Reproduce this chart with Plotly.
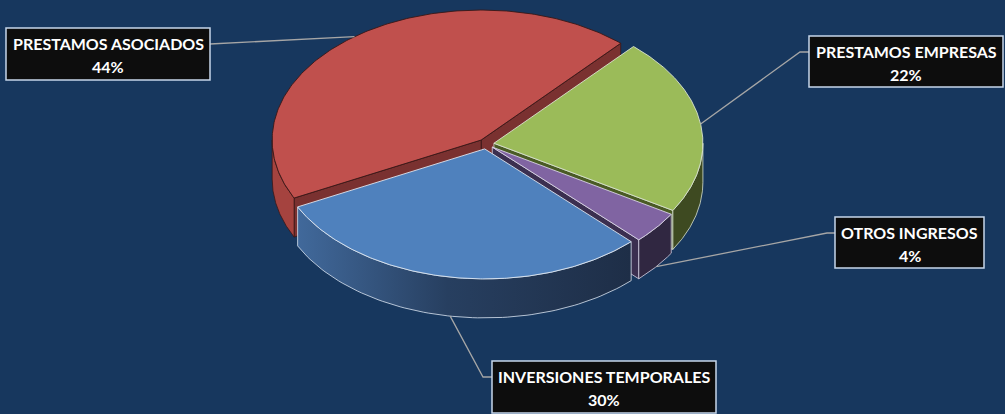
import numpy as np
import plotly.graph_objects as go

# ---------------- data ----------------
categories = ["PRESTAMOS ASOCIADOS", "PRESTAMOS EMPRESAS", "OTROS INGRESOS", "INVERSIONES TEMPORALES"]
values = [44, 22, 4, 30]
pct_labels = ["44%", "22%", "4%", "30%"]

# ---------------- style ----------------
top_colors = ["#C0504D", "#9BBB59", "#8064A2", "#4F81BD"]
wall_colors = ["#A5433F", "#3E4A21", "#302741", None]
face_colors = ["#7A3130", "#4A5B25", "#3B2F50", "#2A4262"]
edge_colors = ["#3A1716", "#D9E2CF", "#D9D4E6", "#DCE6F2"]
blue_wall_scale = [[0, "#41699B"], [0.45, "#273F60"], [1, "#1E2E47"]]
BG = "#17375E"

W, H = 1005, 414
CX, CY = 486, 144          # pie centre (px)
R = 209                    # horizontal radius (px)
K = 0.622                  # vertical squash of the tilted pie
DEPTH = 39                 # thickness (px)
EXPLODE = 8                # explosion distance (px)
START = 243.5              # first slice angle, degrees clockwise from 12 o'clock

# label boxes (left, top, right, bottom) in px, and elbow length
boxes = [(6, 28, 210, 80), (809, 36, 1003, 87), (835, 217, 984, 268), (492, 361, 716, 413)]
elbows = [0, 9, 8, 9]
FONT = "Lato"
FSIZE = 16


def pt(a, r, m, z=0.0):
    ar, mr = np.radians(a), np.radians(m)
    x = CX + r * np.sin(ar) + EXPLODE * np.sin(mr)
    y = CY - K * (r * np.cos(ar) + EXPLODE * np.cos(mr)) + z
    return x, y


total = float(sum(values))
spans = []
acc = START
for v in values:
    a0 = acc
    a1 = acc + 360.0 * v / total
    spans.append((a0, a1))
    acc = a1

fig = go.Figure()
walls = []   # (depth_key, trace)

for i, (a0, a1) in enumerate(spans):
    m = (a0 + a1) / 2
    # outer wall (visible where the rim faces the viewer: 90..270 deg)
    for off in (0, 360):
        s = max(a0, 90 + off)
        t = min(a1, 270 + off)
        if t > s:
            arc = np.linspace(s, t, 80)
            xt, yt = pt(arc, R, m, 0)
            xb, yb = pt(arc[::-1], R, m, DEPTH)
            xs = np.concatenate([xt, xb, xt[:1]])
            ys = np.concatenate([yt, yb, yt[:1]])
            key = -np.cos(np.radians((s + t) / 2))
            if wall_colors[i] is None:
                tr = go.Scatter(x=xs, y=ys, fill="toself", mode="lines",
                                line=dict(color=edge_colors[i], width=0.8),
                                fillgradient=dict(type="horizontal", colorscale=blue_wall_scale),
                                hoverinfo="skip", showlegend=False)
            else:
                tr = go.Scatter(x=xs, y=ys, fill="toself", mode="lines",
                                fillcolor=wall_colors[i],
                                line=dict(color=edge_colors[i], width=0.8),
                                hoverinfo="skip", showlegend=False)
            walls.append((key, tr))
    # radial cut faces
    for a, vis in ((a0, 180 < (a0 % 360) < 360), (a1, 0 < (a1 % 360) < 180)):
        if vis:
            x1, y1 = pt(a, 0, m, 0)
            x2, y2 = pt(a, R, m, 0)
            x3, y3 = pt(a, R, m, DEPTH)
            x4, y4 = pt(a, 0, m, DEPTH)
            key = -0.5 * np.cos(np.radians(a))
            tr = go.Scatter(x=[x1, x2, x3, x4, x1], y=[y1, y2, y3, y4, y1],
                            fill="toself", mode="lines", fillcolor=face_colors[i],
                            line=dict(color=edge_colors[i], width=0.8),
                            hoverinfo="skip", showlegend=False)
            walls.append((key, tr))

for key, tr in sorted(walls, key=lambda kv: kv[0]):
    fig.add_trace(tr)

# top faces
for i, (a0, a1) in enumerate(spans):
    m = (a0 + a1) / 2
    arc = np.linspace(a0, a1, 200)
    xa, ya = pt(arc, R, m, 0)
    xc, yc = pt(a0, 0, m, 0)
    xs = np.concatenate([[xc], xa, [xc]])
    ys = np.concatenate([[yc], ya, [yc]])
    fig.add_trace(go.Scatter(x=xs, y=ys, fill="toself", mode="lines",
                             fillcolor=top_colors[i],
                             line=dict(color=edge_colors[i], width=0.9),
                             hoverinfo="skip", showlegend=False))

# leader lines + labels
annotations = []
shapes = []
for i, (a0, a1) in enumerate(spans):
    m = (a0 + a1) / 2
    z = DEPTH if np.cos(np.radians(m)) < 0 else 0
    ax_, ay_ = pt(m, R, m, z)
    l, t, r_, b = boxes[i]
    ycon = t + 16
    if (l + r_) / 2 < ax_:
        px = r_
        ex = r_ + elbows[i]
    else:
        px = l
        ex = l - elbows[i]
    fig.add_trace(go.Scatter(x=[ax_, ex, px], y=[ay_, ycon, ycon], mode="lines",
                             line=dict(color="#A6A6A6", width=1.3),
                             hoverinfo="skip", showlegend=False))
    shapes.append(dict(type="rect", xref="x", yref="y", x0=l, x1=r_, y0=t, y1=b,
                       fillcolor="#0D0D0D", line=dict(color="#C6D6EA", width=1.5),
                       layer="above"))
    for txt, dy in ((categories[i], 15.5), (pct_labels[i], 38)):
        annotations.append(dict(
            x=(l + r_) / 2, y=t + dy, xref="x", yref="y",
            xanchor="center", yanchor="middle", showarrow=False,
            text=txt,
            font=dict(family=FONT, size=FSIZE, color="#FFFFFF", weight="bold")))

fig.update_layout(
    width=W, height=H, margin=dict(l=0, r=0, t=0, b=0),
    paper_bgcolor=BG, plot_bgcolor=BG,
    xaxis=dict(range=[0, W], visible=False, fixedrange=True),
    yaxis=dict(range=[H, 0], visible=False, fixedrange=True),
    annotations=annotations, shapes=shapes, showlegend=False,
)

fig.write_html("out.html", config={"displayModeBar": False},
               post_script="document.body.style.margin='0';document.body.style.overflow='hidden';")
